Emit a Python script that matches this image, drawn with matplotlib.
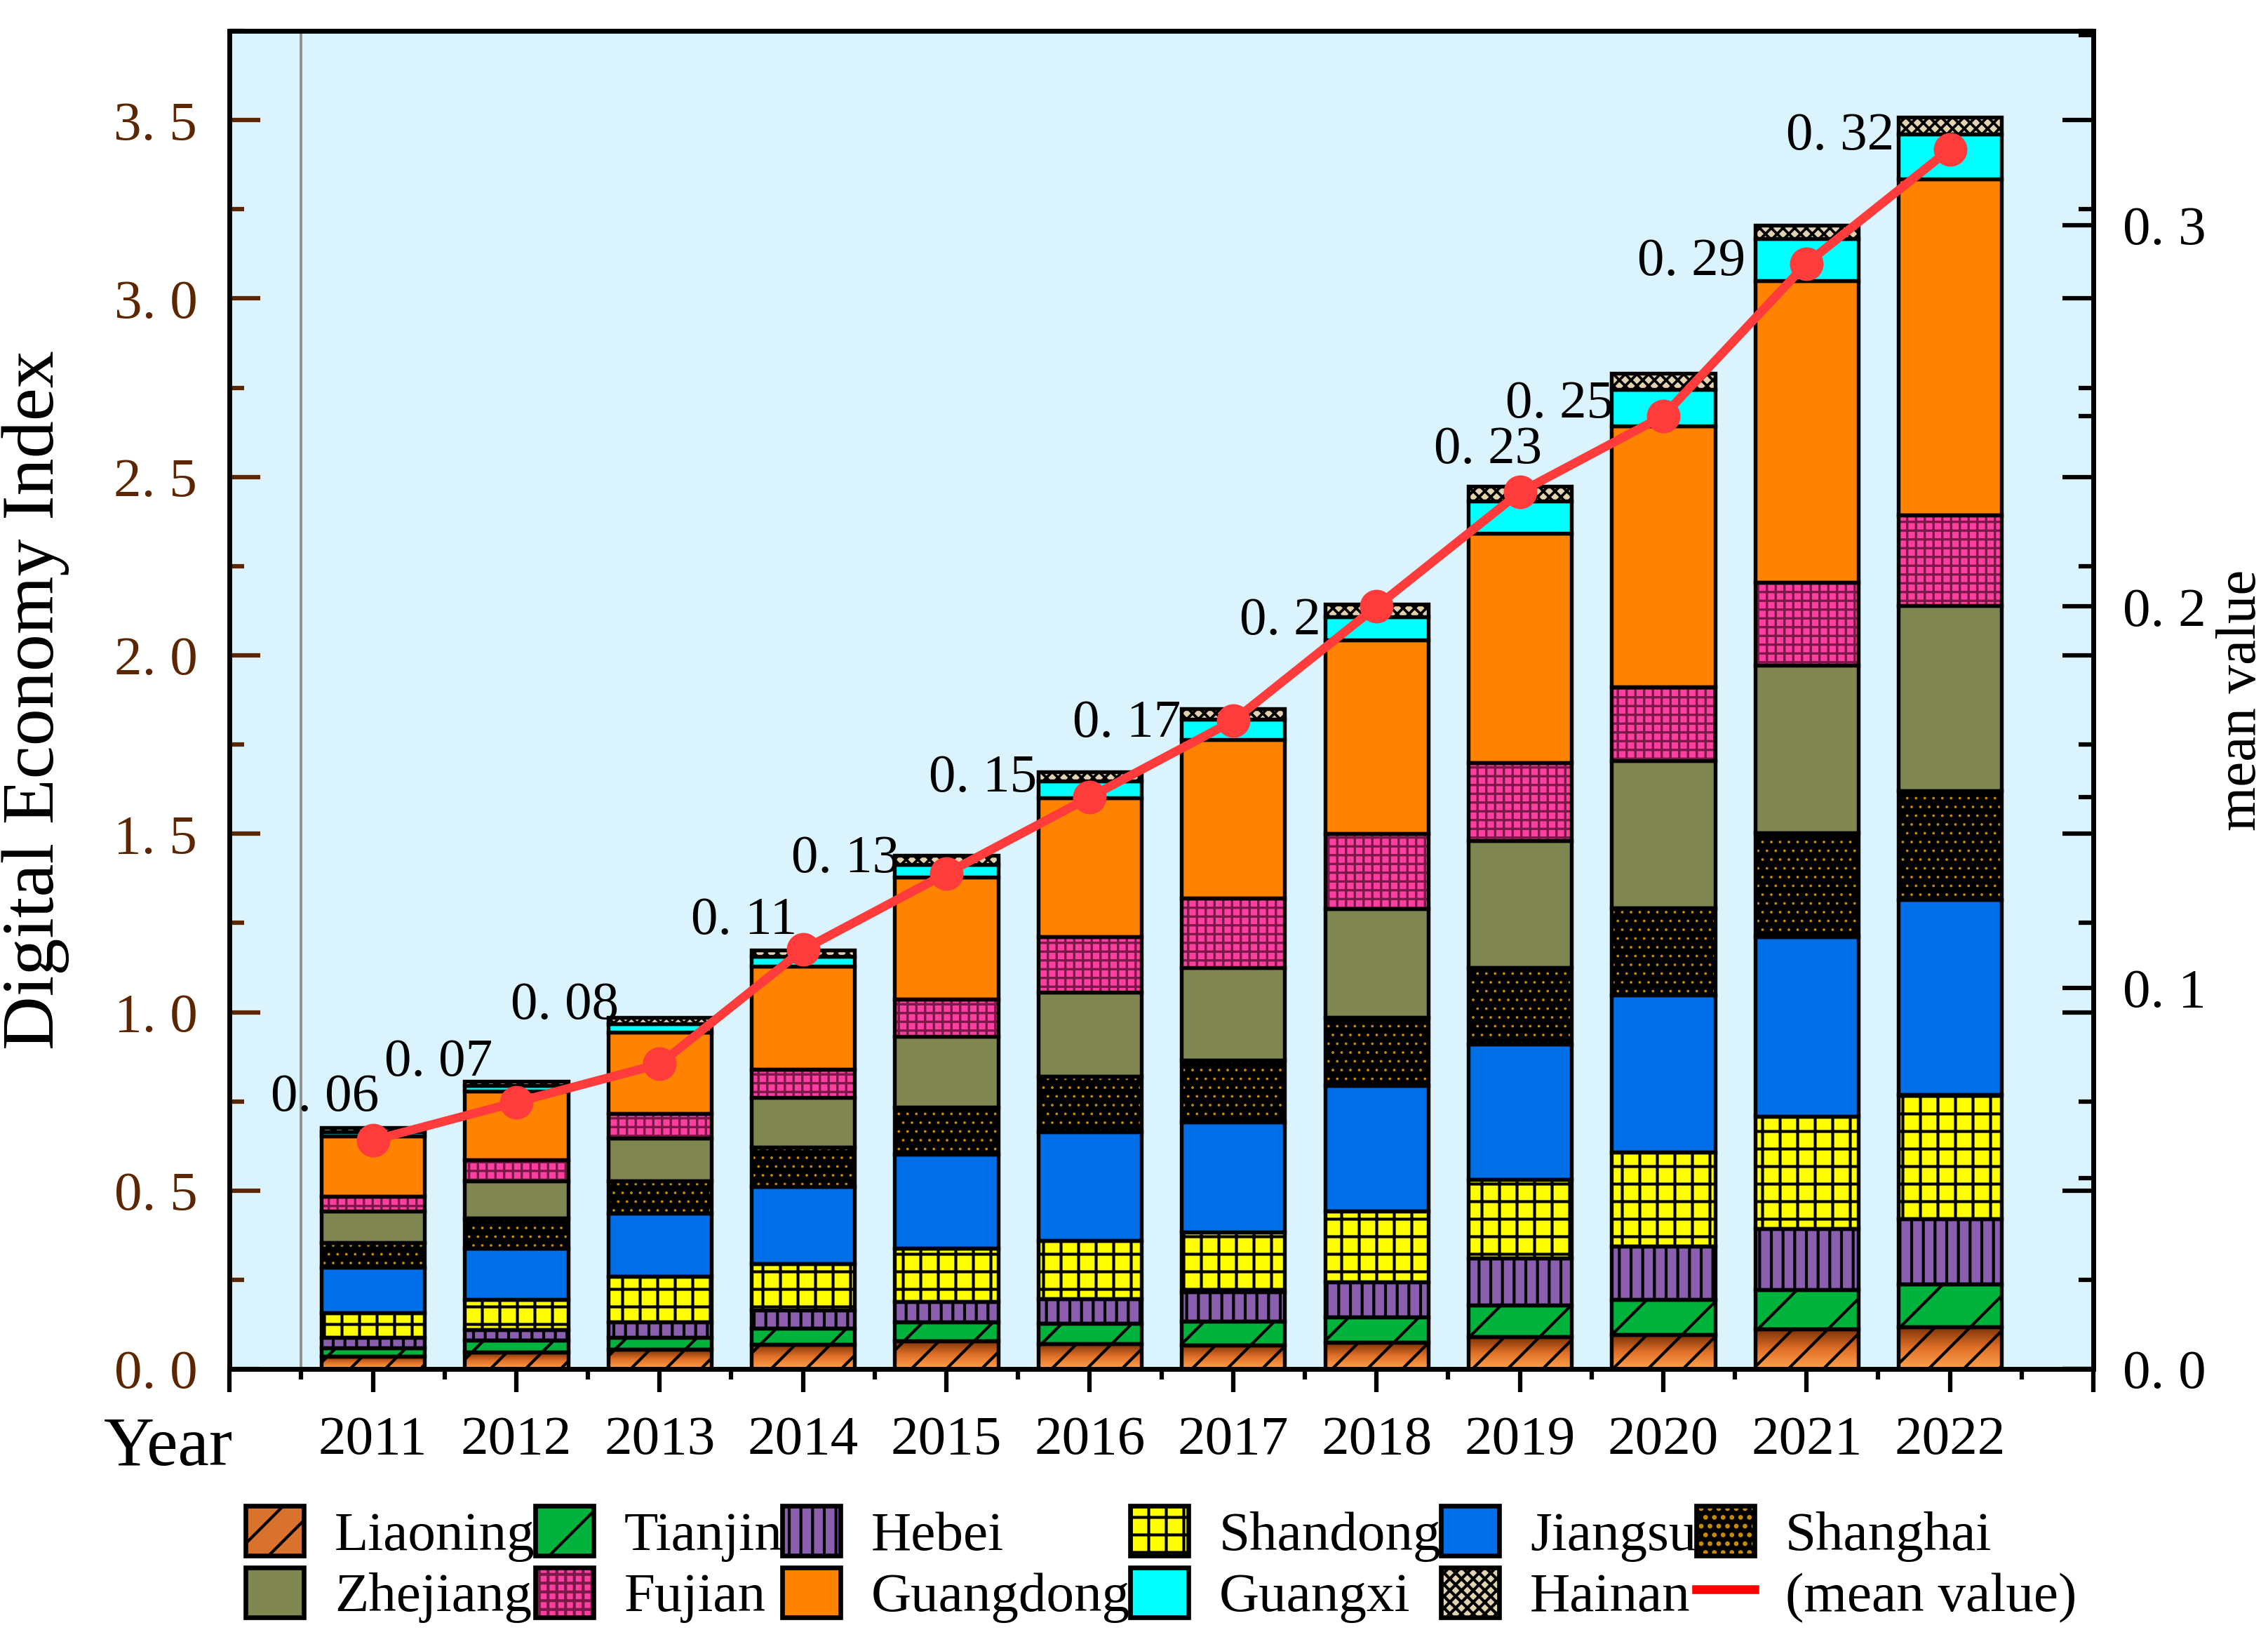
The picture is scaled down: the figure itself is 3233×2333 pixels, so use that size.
import numpy as np
import matplotlib
matplotlib.use("Agg")
import matplotlib.pyplot as plt
from matplotlib.patches import Patch
from matplotlib.lines import Line2D
from matplotlib.colors import LinearSegmentedColormap
from matplotlib.ticker import MultipleLocator, FuncFormatter

plt.rcParams['font.family'] = ['Liberation Serif', 'DejaVu Serif']
plt.rcParams['hatch.linewidth'] = 1.0

# ---------------- data ----------------
years = [2011, 2012, 2013, 2014, 2015, 2016, 2017, 2018, 2019, 2020, 2021, 2022]
liaoning  = [0.036, 0.047, 0.055, 0.069, 0.079, 0.071, 0.068, 0.074, 0.090, 0.096, 0.112, 0.119]
tianjin   = [0.024, 0.033, 0.033, 0.046, 0.053, 0.057, 0.066, 0.072, 0.089, 0.098, 0.110, 0.119]
hebei     = [0.028, 0.031, 0.044, 0.051, 0.056, 0.068, 0.083, 0.098, 0.131, 0.150, 0.172, 0.183]
shandong  = [0.069, 0.084, 0.128, 0.129, 0.150, 0.164, 0.167, 0.199, 0.222, 0.263, 0.315, 0.348]
jiangsu   = [0.129, 0.144, 0.176, 0.216, 0.264, 0.305, 0.308, 0.351, 0.378, 0.441, 0.503, 0.546]
shanghai  = [0.069, 0.084, 0.092, 0.110, 0.131, 0.155, 0.173, 0.191, 0.215, 0.245, 0.291, 0.305]
zhejiang  = [0.088, 0.105, 0.120, 0.141, 0.199, 0.236, 0.259, 0.305, 0.356, 0.412, 0.469, 0.519]
fujian    = [0.041, 0.058, 0.068, 0.078, 0.104, 0.155, 0.196, 0.211, 0.218, 0.206, 0.233, 0.255]
guangdong = [0.170, 0.193, 0.229, 0.288, 0.342, 0.390, 0.444, 0.542, 0.644, 0.732, 0.846, 0.941]
guangxi   = [0.011, 0.015, 0.022, 0.028, 0.036, 0.047, 0.057, 0.065, 0.090, 0.102, 0.117, 0.126]
hainan    = [0.011, 0.013, 0.018, 0.018, 0.026, 0.026, 0.029, 0.036, 0.041, 0.045, 0.038, 0.048]
mean_value = [0.06, 0.07, 0.08, 0.11, 0.13, 0.15, 0.17, 0.20, 0.23, 0.25, 0.29, 0.32]

series_names = ["Liaoning", "Tianjin", "Hebei", "Shandong", "Jiangsu", "Shanghai",
                "Zhejiang", "Fujian", "Guangdong", "Guangxi", "Hainan"]
series_values = [liaoning, tianjin, hebei, shandong, jiangsu, shanghai,
                 zhejiang, fujian, guangdong, guangxi, hainan]

# styles: (facecolor, hatch, hatchcolor, hatch linewidth)
styles = {
    "Liaoning":  ("#D8722C", "//", "black", 1.0),
    "Tianjin":   ("#00B33C", "/", "black", 1.0),
    "Hebei":     ("#8B5FAF", "|||", "black", 1.0),
    "Shandong":  ("#FFFF00", "++", "black", 1.0),
    "Jiangsu":   ("#006EE6", None, None, 1.0),
    "Shanghai":  ("#000000", "....", "#C88C00", 0.3),
    "Zhejiang":  ("#7F8650", None, None, 1.0),
    "Fujian":    ("#FF3FA0", "++++", "#7A1848", 0.8),
    "Guangdong": ("#FF8200", None, None, 1.0),
    "Guangxi":   ("#00FFFF", None, None, 1.0),
    "Hainan":    ("#E2D2B0", "xxxxxx", "black", 0.9),
}

# label offsets (points) for the mean labels: (dx of right edge, dy of baseline)
label_offsets = [(2, 10), (-8, 9), (-14, 15.5), (-2, 5.5), (-16, 0.5), (-18, 2),
                 (-18, -5.5), (-19, -9.5), (7.5, 10), (-17, -0.5), (-21, -4), (-19, 0)]

brown = "#5C2600"
bg = "#DBF3FD"
W = 0.72
LW = 1.3

fig = plt.figure(figsize=(3233 / 300, 2333 / 300), dpi=300)
ax = fig.add_axes([0.1012, 0.1637, 0.8218, 0.8174])
ax.set_facecolor(bg)

x = np.array(years, dtype=float)
bottom = np.zeros(len(years))
lia_cmap = LinearSegmentedColormap.from_list("lia", ["#FFA24E", "#E07028", "#7A3006"])

handles = {}
for name, vals in zip(series_names, series_values):
    vals = np.array(vals)
    fc, h, hc, hlw = styles[name]
    with plt.rc_context({"hatch.linewidth": hlw}):
        if name == "Liaoning":
            grad = np.linspace(0, 1, 128).reshape(-1, 1)
            for xi, b, v in zip(x, bottom, vals):
                ax.imshow(grad, extent=[xi - W / 2, xi + W / 2, b, b + v], origin="lower",
                          cmap=lia_cmap, aspect="auto", zorder=2, interpolation="bilinear")
            ax.bar(x, vals, W, bottom=bottom, fill=False, edgecolor="black", hatch=h,
                   linewidth=LW, zorder=2.2)
            handles[name] = (Patch(facecolor=fc, edgecolor="black", hatch=h, linewidth=0),
                             Patch(fill=False, edgecolor="black", linewidth=1.6))
        elif h is None:
            ax.bar(x, vals, W, bottom=bottom, color=fc, edgecolor="black", linewidth=LW, zorder=2)
            handles[name] = Patch(facecolor=fc, edgecolor="black", linewidth=1.6)
        else:
            ax.bar(x, vals, W, bottom=bottom, color=fc, edgecolor=hc, hatch=h, linewidth=0, zorder=2)
            ax.bar(x, vals, W, bottom=bottom, fill=False, edgecolor="black", linewidth=LW, zorder=2.2)
            handles[name] = (Patch(facecolor=fc, edgecolor=hc, hatch=h, linewidth=0),
                             Patch(fill=False, edgecolor="black", linewidth=1.6))
    bottom = bottom + vals

ax.axvline(2010.5, color="#8E8E8E", linewidth=0.9, zorder=1)

ax.set_xlim(2010, 2023)
ax.set_ylim(0, 3.75)

# left axis styling
ax.yaxis.set_major_locator(MultipleLocator(0.5))
ax.yaxis.set_minor_locator(MultipleLocator(0.25))
ax.yaxis.set_major_formatter(FuncFormatter(lambda v, p: f"{v:.1f}".replace(".", ". ")))
ax.tick_params(axis="y", which="major", direction="in", length=10.5, width=1.5,
               color=brown, labelcolor=brown, labelsize=19, pad=11, right=False)
ax.tick_params(axis="y", which="minor", direction="in", length=5, width=1.5,
               color=brown, right=False)
ax.spines["left"].set_color(brown)
for s in ["left", "right", "top", "bottom"]:
    ax.spines[s].set_linewidth(1.6)

# x axis
ax.xaxis.set_major_locator(MultipleLocator(1))
ax.xaxis.set_minor_locator(MultipleLocator(0.5))
ax.xaxis.set_major_formatter(FuncFormatter(lambda v, p: f"{int(round(v))}" if 2011 <= round(v) <= 2022 else ""))
ax.tick_params(axis="x", which="major", direction="out", length=8, width=1.5,
               labelsize=19, pad=8, top=False)
ax.tick_params(axis="x", which="minor", direction="out", length=3.6, width=1.5, top=False)

ax.set_ylabel("Digital Economy Index", fontsize=25.5)
ax.yaxis.set_label_coords(-0.086, 0.5)
ax.text(-0.033, -0.072, "Year", transform=ax.transAxes, fontsize=24,
        ha="center", va="baseline")

# mirrored left-axis ticks on the right side
ax3 = ax.twinx()
ax3.set_ylim(ax.get_ylim())
ax3.yaxis.set_major_locator(MultipleLocator(0.5))
ax3.yaxis.set_minor_locator(MultipleLocator(0.25))
ax3.tick_params(axis="y", which="major", direction="in", length=10.5, width=1.5,
                color="black", labelright=False)
ax3.tick_params(axis="y", which="minor", direction="in", length=5, width=1.5,
                color="black", labelright=False)
for s in ax3.spines.values():
    s.set_visible(False)

# right axis: mean value
ax2 = ax.twinx()
ax2.set_ylim(0, 0.351)
ax2.plot(x, mean_value, color="#FF3B3B", linewidth=3, marker="o", markersize=10.5,
         zorder=5, clip_on=False)
for xi, v, (dx, dy) in zip(x, mean_value, label_offsets):
    ax2.annotate(f"{v:g}".replace(".", ". "), (xi, v), xytext=(dx, dy),
                 textcoords="offset points", ha="right", va="baseline", fontsize=18.5,
                 zorder=6)
ax2.yaxis.set_major_locator(MultipleLocator(0.1))
ax2.yaxis.set_minor_locator(MultipleLocator(0.05))
ax2.yaxis.set_major_formatter(FuncFormatter(lambda v, p: f"{v:.1f}".replace(".", ". ")))
ax2.tick_params(axis="y", which="major", direction="in", length=10.5, width=1.5,
                labelsize=19, pad=10)
ax2.tick_params(axis="y", which="minor", direction="in", length=5, width=1.5)
ax2.set_ylabel("mean value", fontsize=19.5)
ax2.yaxis.set_label_coords(1.066, 0.5)
for s in ax2.spines.values():
    s.set_linewidth(1.6)

# legend
order = ["Liaoning", "Zhejiang", "Tianjin", "Fujian", "Hebei", "Guangdong",
         "Shandong", "Guangxi", "Jiangsu", "Hainan", "Shanghai"]
leg_handles = [handles[n] for n in order] + [Line2D([], [], color="#FF0000", linewidth=3)]
leg_labels = order + ["(mean value)"]
fig.legend(leg_handles, leg_labels, ncol=6, loc="upper center",
           bbox_to_anchor=(0.512, 0.080), frameon=False, fontsize=19,
           handlelength=1.05, handleheight=1.0, handletextpad=0.55,
           columnspacing=0.0, labelspacing=0.1, borderpad=0, borderaxespad=0)

fig.savefig("out.png", dpi=300)
